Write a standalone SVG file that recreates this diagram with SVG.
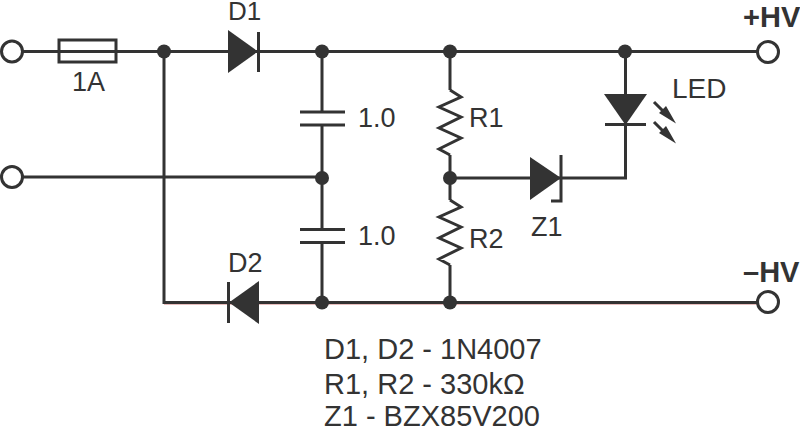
<svg xmlns="http://www.w3.org/2000/svg" width="800" height="430" viewBox="0 0 800 430">
<defs><style>
.w{fill:none;stroke:#333;stroke-width:3}
.t{fill:#333;stroke:none}
.d{fill:#333;stroke:none}
.o{fill:#fff;stroke:#333;stroke-width:3}
text{font-family:"Liberation Sans",Arial,sans-serif;font-size:27px;fill:#333}
.b{font-weight:bold;font-size:29px}
.n{font-size:29px}
</style></defs>
<rect width="800" height="430" fill="#fff"/>
<g id="connectors">
<path d="M164 304H757" fill="none" stroke="#e0a8a8" stroke-width="1.5"/>
<path class="w" d="M23 51.5H757M23 177H322M164 51.5V302.5H757M322 51.5V112M322 125V229.5M322 243V302.5M450 51.5V90M450 155V200M450 265V302.5M450 178H625.5V52"/>
</g>
<g id="T1"><circle class="o" cx="12" cy="51.5" r="10.5"/></g>
<g id="T2"><circle class="o" cx="12" cy="177" r="10.5"/></g>
<g id="T3"><circle class="o" cx="768" cy="52" r="10.5"/><text class="b" x="743" y="27">+HV</text></g>
<g id="T4"><circle class="o" cx="768" cy="302" r="10.5"/><text class="b" x="743" y="282">–HV</text></g>
<g id="junctions">
<circle class="d" cx="164" cy="51.5" r="7"/><circle class="d" cx="322" cy="51.5" r="7"/><circle class="d" cx="450" cy="51.5" r="7"/><circle class="d" cx="625" cy="51.5" r="7"/><circle class="d" cx="322" cy="178" r="7"/><circle class="d" cx="450" cy="178" r="7"/><circle class="d" cx="322" cy="302.5" r="7"/><circle class="d" cx="450" cy="302.5" r="7"/>
</g>
<g id="F1"><rect class="w" x="59" y="40" width="57" height="22"/><text x="72" y="91">1A</text></g>
<g id="D1"><path class="t" d="M228 30V73L258 51.5Z"/><path class="w" d="M258.500 32V72"/><text x="228" y="20" style="font-size:26px">D1</text></g>
<g id="D2"><path class="t" d="M259 281V324L229 302.500Z"/><path class="w" d="M228.500 282V323"/><text x="228" y="272">D2</text></g>
<g id="C1"><path class="w" d="M300 112H345M300 125H345"/><text x="358" y="127">1.0</text></g>
<g id="C2"><path class="w" d="M300 229.500H345M300 242.500H345"/><text x="358" y="245">1.0</text></g>
<g id="R1"><path class="w" d="M450 90L461 97L439 107L461 117L439 128L461 138L439 149L450 155"/><text x="469" y="127">R1</text></g>
<g id="R2"><path class="w" d="M450 200L461 207L439 217L461 227L439 238L461 248L439 259L450 265"/><text x="469" y="248">R2</text></g>
<g id="Z1"><path class="t" d="M530 157V200L561 178Z"/><path class="w" d="M561 155V201H551"/><text x="531" y="236">Z1</text></g>
<g id="LED"><path class="t" d="M604 94H647L625.500 125Z"/><path class="w" d="M605 124.500H646"/>
<path class="w" d="M654 102L668 116M654 122L668 136"/><path class="t" d="M676 123.500L659 113L666 106ZM676 143.500L659 133L666 126Z"/><text x="672" y="98" style="font-size:28px">LED</text></g>
<g id="notes"><text class="n" x="324" y="359">D1, D2 - 1N4007</text><text class="n" x="324" y="394">R1, R2 - 330kΩ</text><text class="n" x="324" y="426">Z1 - BZX85V200</text></g>
</svg>
